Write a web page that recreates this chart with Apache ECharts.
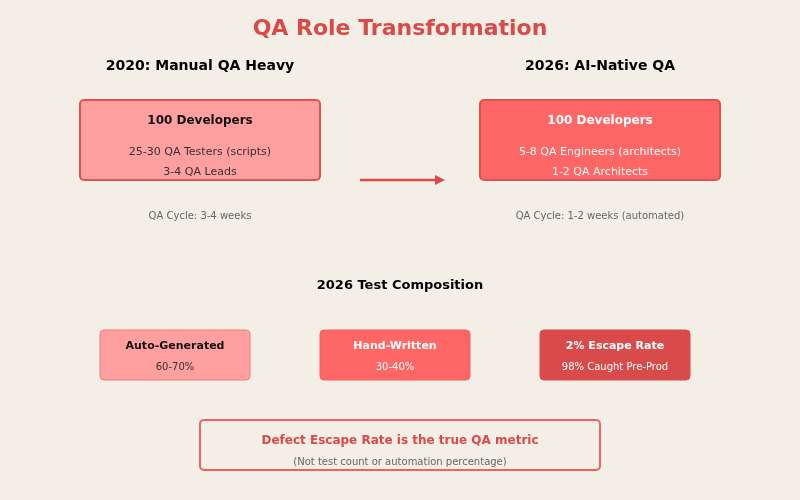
<!DOCTYPE html>
<html><head><meta charset="utf-8">
<script src="https://cdn.jsdelivr.net/npm/echarts@6/dist/echarts.min.js"></script>
<style>html,body{margin:0;padding:0;background:#f3efe7}#c{width:800px;height:500px}</style>
</head><body><div id="c"></div>
<script>
const title = 'QA Role Transformation';
const eraTitles = ['2020: Manual QA Heavy', '2026: AI-Native QA'];
const eraHeads = ['100 Developers', '100 Developers'];
const eraLine1 = ['25-30 QA Testers (scripts)', '5-8 QA Engineers (architects)'];
const eraLine2 = ['3-4 QA Leads', '1-2 QA Architects'];
const eraCycle = ['QA Cycle: 3-4 weeks', 'QA Cycle: 1-2 weeks (automated)'];
const compTitle = '2026 Test Composition';
const compHeads = ['Auto-Generated', 'Hand-Written', '2% Escape Rate'];
const compValues = ['60-70%', '30-40%', '98% Caught Pre-Prod'];
const noteHead = 'Defect Escape Rate is the true QA metric';
const noteSub = '(Not test count or automation percentage)';

const FONT = 'DejaVu Sans';
const eraFill = ['#ff9f9f', '#ff6666'];
const eraText = ['#111', '#fff'];
const eraSubText = ['#333', '#fff'];
const compFill = ['#ff9f9f', '#ff6666', '#d94a4a'];
const compStroke = ['#f07a7a', '#f06060', '#d94a4a'];
const compHeadColor = ['#111', '#fff', '#fff'];
const compSubColor = ['#333', '#fff', '#fff'];

function txt(x, y, s, size, color, weight) {
  return {type:'text', x:x, y:y, style:{text:s, x:0, y:0, fill:color, font:(weight||'normal')+' '+size+'px "'+FONT+'"', align:'center', verticalAlign:'middle'}};
}
const g = [];
g.push(txt(400, 29, title, 22, '#d94a4a', 'bold'));
const eraCx = [200, 600];
for (let i = 0; i < 2; i++) {
  const cx = eraCx[i];
  g.push(txt(cx, 66, eraTitles[i], 14, '#000', 'bold'));
  g.push({type:'rect', shape:{x:cx-120, y:100, width:240, height:80, r:4}, style:{fill:eraFill[i], stroke:'#e05252', lineWidth:2}});
  g.push(txt(cx, 121, eraHeads[i], 12, eraText[i], 'bold'));
  g.push(txt(cx, 152, eraLine1[i], 11, eraSubText[i]));
  g.push(txt(cx, 172, eraLine2[i], 11, eraSubText[i]));
  g.push(txt(cx, 216, eraCycle[i], 10, '#666'));
}
g.push({type:'line', shape:{x1:360, y1:180, x2:437, y2:180}, style:{stroke:'#d94a4a', lineWidth:2.5}});
g.push({type:'polygon', shape:{points:[[435,175],[445,180],[435,185]]}, style:{fill:'#d94a4a'}});
g.push(txt(400, 286, compTitle, 13, '#000', 'bold'));
const compCx = [175, 395, 615];
for (let i = 0; i < 3; i++) {
  const cx = compCx[i];
  g.push({type:'rect', shape:{x:cx-75, y:330, width:150, height:50, r:4}, style:{fill:compFill[i], stroke:compStroke[i], lineWidth:1}});
  g.push(txt(cx, 346, compHeads[i], 11, compHeadColor[i], 'bold'));
  g.push(txt(cx, 367, compValues[i], 10, compSubColor[i]));
}
g.push({type:'rect', shape:{x:200, y:420, width:400, height:50, r:4}, style:{fill:'none', stroke:'#f06060', lineWidth:2}});
g.push(txt(400, 441, noteHead, 12, '#d94a4a', 'bold'));
g.push(txt(400, 462, noteSub, 10, '#666'));

const chart = echarts.init(document.getElementById('c'));
chart.setOption({backgroundColor:'#f3efe7', animation:false, graphic:{elements:g}});
</script></body></html>
